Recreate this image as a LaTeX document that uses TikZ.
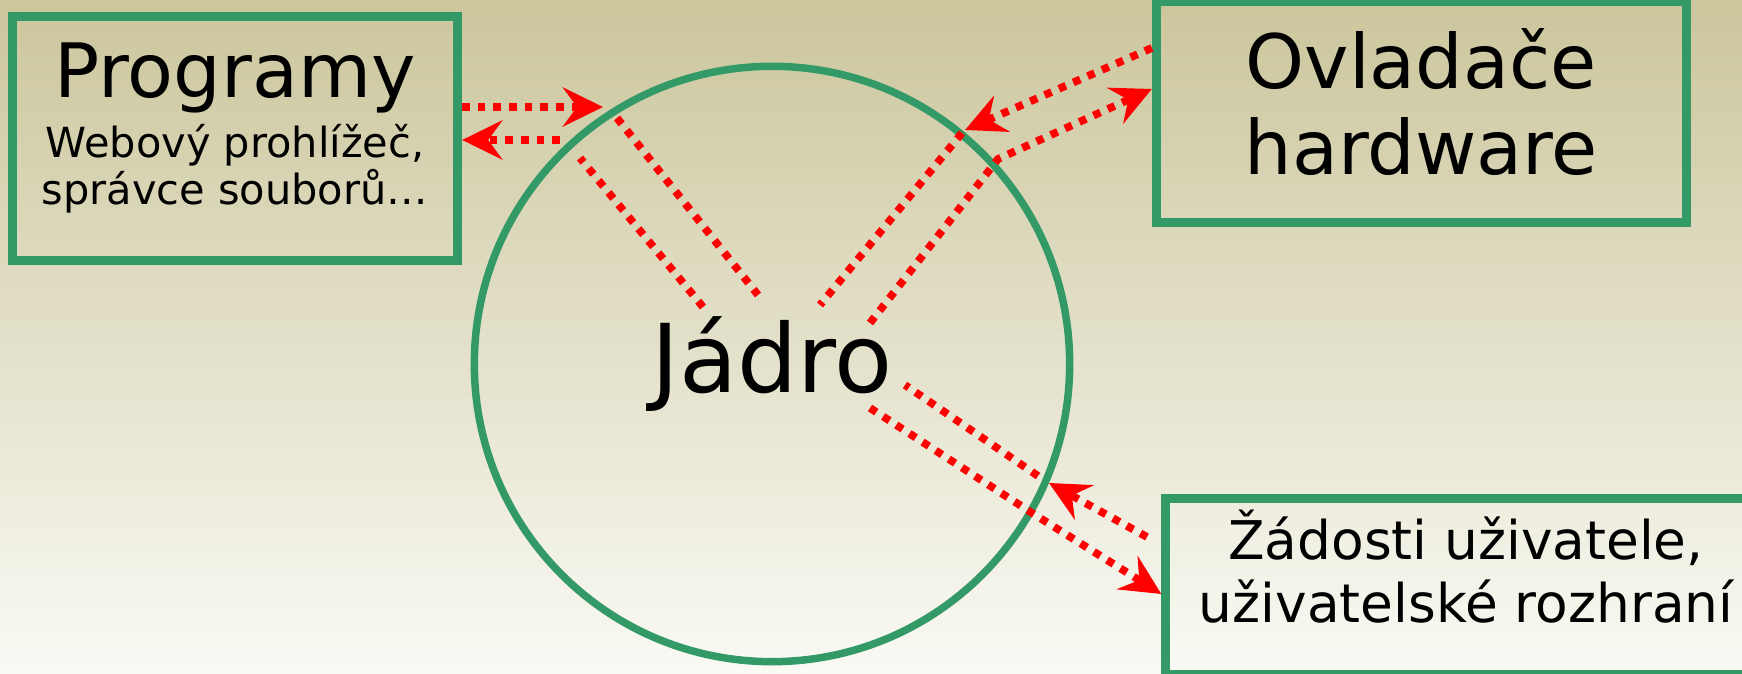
\documentclass[tikz,border=0pt]{standalone}
\usepackage{fontspec}
\setmainfont{DejaVu Sans}
\usetikzlibrary{arrows.meta,positioning}
\definecolor{boxGreen}{HTML}{339966}
\definecolor{bgTop}{HTML}{CBC69C}
\definecolor{bgBottom}{HTML}{FAFAF5}

\begin{document}
\begin{tikzpicture}[
    x=0.01cm, y=-0.01cm,
    partbox/.style={rectangle,draw=boxGreen,line width=2.56pt,
                    inner sep=0pt,align=center,text depth=0pt},
    kernelring/.style={circle,draw=boxGreen,line width=2.13pt,
                       inner sep=0pt,minimum size=5.95cm,
                       font=\fontsize{27pt}{32pt}\selectfont},
    flow/.style={draw=red,line width=2.2pt,dash pattern=on 2.15pt off 2.3pt},
    flowtip/.style={flow,-{Stealth[length=11.4pt,width=11.1pt,inset=4pt]}}
  ]
  \useasboundingbox (0,0) rectangle (1742,674);
  \clip (0,0) rectangle (1742,674);
  \fill[top color=bgTop,bottom color=bgBottom] (0,0) rectangle (1742,674);

  % kernel and the three parts round it
  \node[kernelring] (kernel) at (772,364) {Jádro};
  \node[partbox,minimum width=4.45cm,minimum height=2.44cm,text height=37.27pt,
        font=\fontsize{11.8pt}{13.37pt}\selectfont] (prog) at (235,138.5)
        {{\fontsize{21.34pt}{24pt}\selectfont Programy}\\[2pt]
         Webový prohlížeč,\\správce souborů…};
  \node[partbox,minimum width=5.295cm,minimum height=2.205cm,text height=35.71pt,
        font=\fontsize{21.34pt}{24.33pt}\selectfont] (hw) at (1421.25,111.75)
        {Ovladače\\hardware};
  \node[partbox,minimum width=6cm,minimum height=1.76cm,text height=20.2pt,
        font=\fontsize{15.17pt}{17.64pt}\selectfont] (user) at (1466,586.5)
        {Žádosti uživatele,\\uživatelské rozhraní};

  % Programy <-> Jadro
  \coordinate (pk1) at (603,107);
  \coordinate (pk2) at (617,118);
  \coordinate (pk3) at (758,295);
  \coordinate (kp1) at (703,307);
  \coordinate (kp2) at (580,158);
  \coordinate (kp3) at (560,140);
  \draw[flowtip] (prog.east |- pk1) -- (pk1);
  \draw[flow] (pk2) -- (pk3);
  \draw[flow] (kp1) -- (kp2);
  \draw[flowtip] (kp3) -- (prog.east |- kp3);

  % Ovladace <-> Jadro
  \coordinate (hk1) at (965,130);
  \coordinate (hk2) at (962,133);
  \coordinate (hk3) at (820,305);
  \coordinate (kh1) at (870,323);
  \coordinate (kh2) at (998,159);
  \draw[flowtip] (hw.west |- 0,48) -- (hk1);
  \draw[flow] (hk2) -- (hk3);
  \draw[flowtip] (kh1) -- (kh2) -- (hw.west |- 0,89);

  % Zadosti <-> Jadro
  \coordinate (uk0) at (1147,537);
  \coordinate (uk1) at (1049,483);
  \coordinate (uk2) at (1038,476);
  \coordinate (uk3) at (905,385);
  \coordinate (ku1) at (870,408);
  \coordinate (ku2) at (1032,513);
  \draw[flowtip] (uk0) -- (uk1);
  \draw[flow] (uk2) -- (uk3);
  \draw[flowtip] (ku1) -- (ku2) -- (user.west |- 0,594);
\end{tikzpicture}
\end{document}
